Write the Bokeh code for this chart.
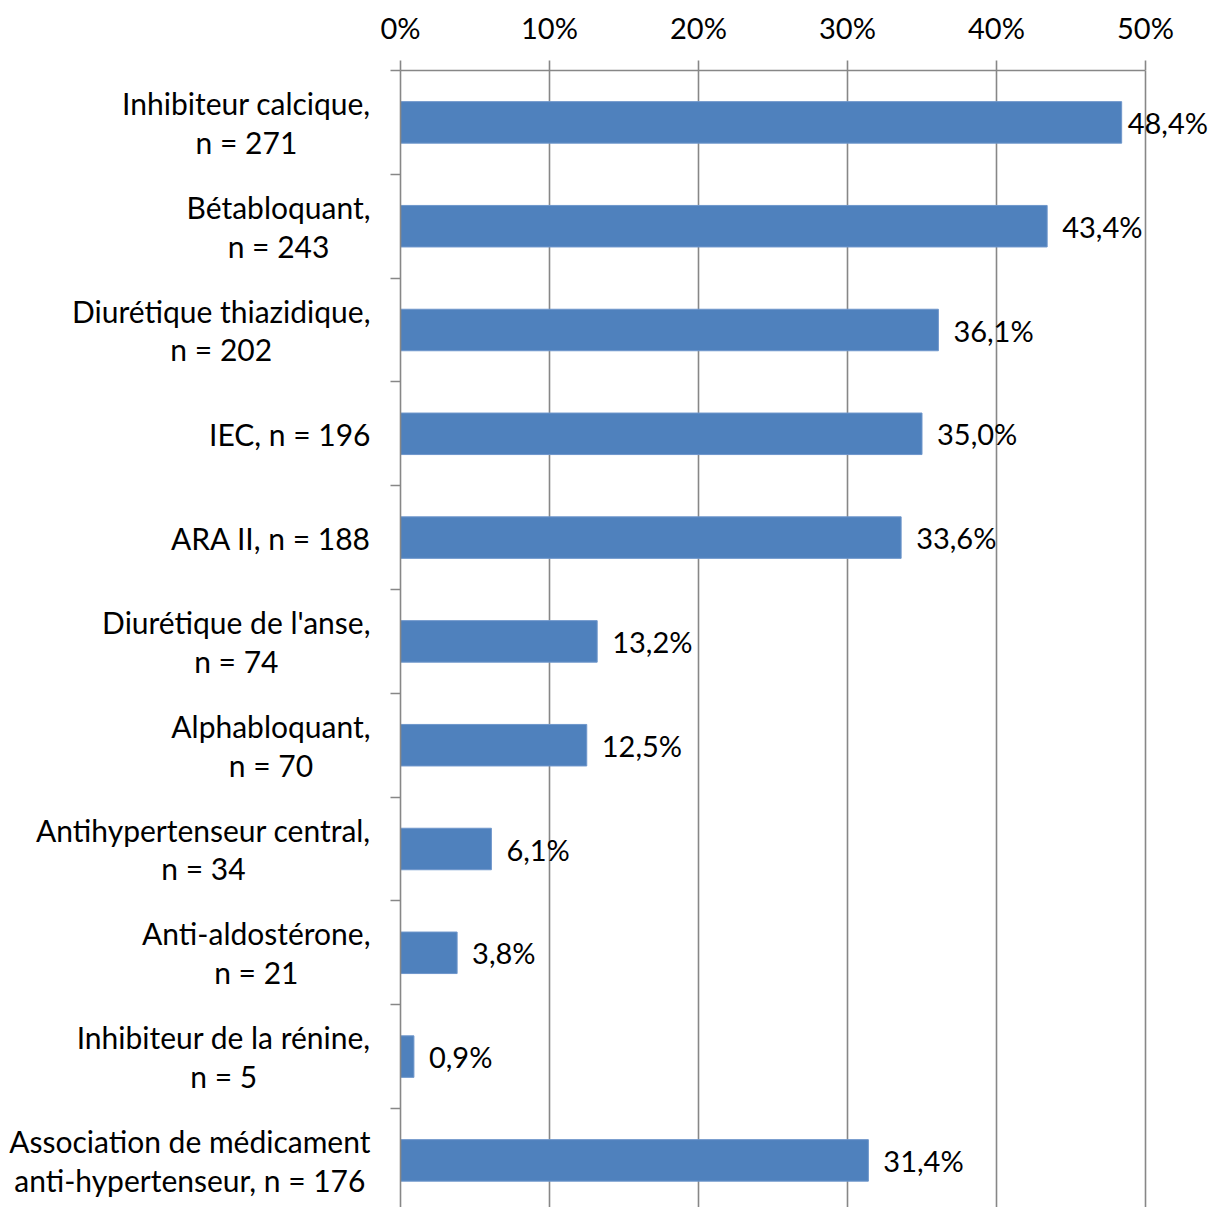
import subprocess
from bokeh.plotting import figure
from bokeh.layouts import row
from bokeh.models import Range1d, FixedTicker, PrintfTickFormatter, ColumnDataSource, LabelSet
from bokeh.core.properties import value
from bokeh.embed import file_html
from bokeh.resources import INLINE

categories = [
    "Inhibiteur calcique,\nn = 271",
    "Bétabloquant,\nn = 243",
    "Diurétique thiazidique,\nn = 202",
    "IEC, n = 196",
    "ARA II, n = 188",
    "Diurétique de l'anse,\nn = 74",
    "Alphabloquant,\nn = 70",
    "Antihypertenseur central,\nn = 34",
    "Anti-aldostérone,\nn = 21",
    "Inhibiteur de la rénine,\nn = 5",
    "Association de médicament\nanti-hypertenseur, n = 176",
]
values = [48.4, 43.4, 36.1, 35.0, 33.6, 13.2, 12.5, 6.1, 3.8, 0.9, 31.4]
x_ticks = [0, 10, 20, 30, 40, 50]

FONT = "Lato"
GRAY = "#878787"
BLUE = "#4F81BD"
CAT_SIZE = 30
FS_CAT = f"{CAT_SIZE}px"
FS_VAL = "29px"
LABEL_GAP = 30


def make_measure():
    try:
        from PIL import ImageFont
        path = subprocess.run(["fc-match", "-f", "%{file}", "Lato:style=Regular"],
                              capture_output=True, text=True, timeout=10).stdout.strip()
        f = ImageFont.truetype(path, CAT_SIZE)
        return lambda s: f.getlength(s)
    except Exception:
        return lambda s: 0.5 * CAT_SIZE * len(s)


measure = make_measure()

n = len(categories)
centers = [i + 0.5 for i in range(n)]
boundaries = [float(i) for i in range(n + 1)]
labels = [f"{v:.1f}".replace(".", ",") + "%" for v in values]
offsets = [6 if v > 45 else 15 for v in values]

W, H = 1210, 1207
FRAME_LEFT, TOP = 400, 70
AXIS_PANEL = 20
LEFT_W = FRAME_LEFT - AXIS_PANEL
MAIN_W = W - LEFT_W
frame_w = MAIN_W - AXIS_PANEL
x_end = 50 * frame_w / 745.0
frame_h = H - TOP
y_end = frame_h / 103.8

yr = Range1d(y_end, 0)

# ---- left panel holding the category labels ----
text_right = FRAME_LEFT - LABEL_GAP
cat_x = [text_right - max(measure(s) for s in c.split("\n")) / 2.0 for c in categories]
csrc = ColumnDataSource(dict(x=cat_x, y=centers, cat=categories))

lp = figure(width=LEFT_W, height=H, output_backend="svg", toolbar_location=None,
            x_range=Range1d(0, LEFT_W), y_range=yr,
            x_axis_type=None, y_axis_type=None)
lp.min_border_left = 0
lp.min_border_right = 0
lp.min_border_top = TOP
lp.min_border_bottom = 0
lp.outline_line_color = None
lp.xgrid.visible = False
lp.ygrid.visible = False
lp.text(x="x", y="y", text="cat", source=csrc, text_align="center",
        text_baseline="middle", text_line_height=1.08,
        text_font=value(FONT), text_font_size=value(FS_CAT), text_color="black")

# ---- main bar chart ----
src = ColumnDataSource(dict(y=centers, v=values, lab=labels, off=offsets))

p = figure(width=MAIN_W, height=H, output_backend="svg", toolbar_location=None,
           x_range=Range1d(0, x_end), y_range=yr,
           x_axis_location="above")
p.min_border_left = AXIS_PANEL
p.min_border_top = TOP
p.min_border_right = 0
p.min_border_bottom = 0
p.outline_line_color = None
p.background_fill_color = "white"
p.border_fill_color = "white"

p.hbar(y="y", right="v", left=0, height=0.4, source=src,
       fill_color=BLUE, line_color="#6E96CB", line_width=1)

p.add_layout(LabelSet(x="v", y="y", text="lab", x_offset="off", source=src,
                      text_baseline="middle", text_align="left",
                      text_font=value(FONT), text_font_size=value(FS_VAL),
                      text_color="black"))

xa = p.xaxis[0]
xa.ticker = FixedTicker(ticks=x_ticks)
xa.formatter = PrintfTickFormatter(format="%d%%")
xa.bounds = (0, 50)
xa.axis_line_color = GRAY
xa.axis_line_width = 1.6
xa.major_tick_line_color = GRAY
xa.major_tick_line_width = 1.6
xa.major_tick_out = 10
xa.major_tick_in = 0
xa.minor_tick_out = 0
xa.minor_tick_in = 0
xa.major_label_standoff = 16
xa.major_label_text_font = FONT
xa.major_label_text_font_size = FS_VAL
xa.major_label_text_color = "black"

ya = p.yaxis[0]
ya.ticker = FixedTicker(ticks=centers, minor_ticks=boundaries)
ya.major_label_overrides = {c: "" for c in centers}
ya.major_label_standoff = 0
ya.axis_line_color = GRAY
ya.axis_line_width = 1.6
ya.major_tick_out = 0
ya.major_tick_in = 0
ya.minor_tick_out = 10
ya.minor_tick_in = 0
ya.minor_tick_line_color = GRAY
ya.minor_tick_line_width = 1.6

p.xgrid.ticker = FixedTicker(ticks=x_ticks)
p.xgrid.grid_line_color = GRAY
p.xgrid.grid_line_width = 1.6
p.ygrid.grid_line_color = None

layout = row(lp, p, spacing=0)
open("out.html", "w").write(file_html(layout, INLINE))
